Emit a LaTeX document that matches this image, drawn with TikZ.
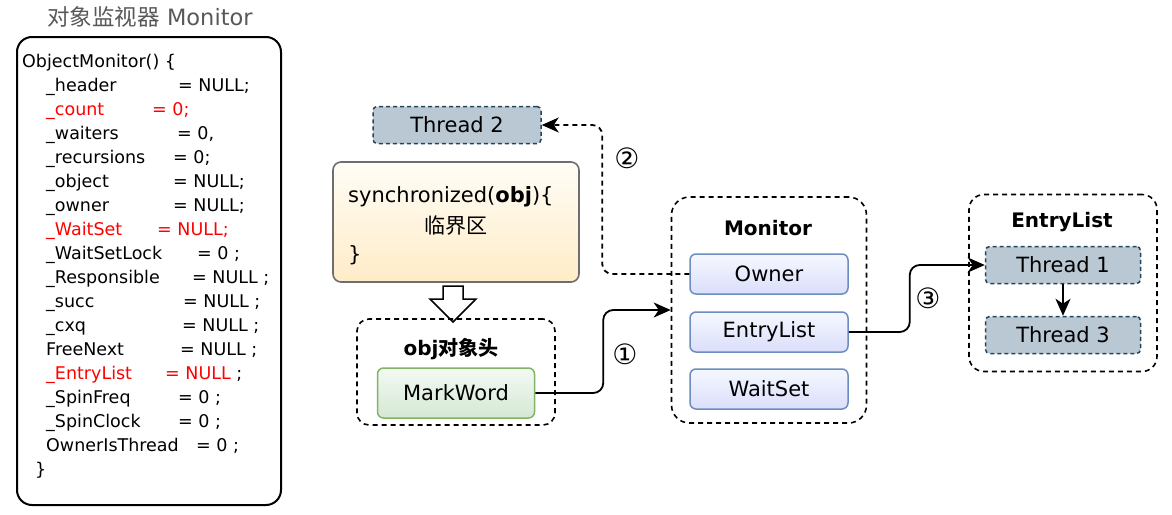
\documentclass[tikz,border=0pt]{standalone}
\usepackage{fontspec}
\setmainfont{DejaVu Sans}
\newfontfamily\cjk{Noto Sans CJK SC}
\usepackage{xcolor}
\usepackage{tikz}
\usetikzlibrary{positioning,arrows.meta}
\definecolor{threadfill}{RGB}{186,200,211}
\definecolor{threaddraw}{RGB}{35,68,93}
\definecolor{fielddraw}{RGB}{108,142,191}
\definecolor{fieldtop}{RGB}{246,248,255}
\definecolor{fieldbot}{RGB}{218,222,250}
\definecolor{markdraw}{RGB}{130,179,102}
\definecolor{marktop}{RGB}{243,249,242}
\definecolor{markbot}{RGB}{213,232,212}
\definecolor{syncdraw}{RGB}{110,110,110}
\definecolor{synctop}{RGB}{255,253,246}
\definecolor{syncbot}{RGB}{255,236,200}
\definecolor{codered}{RGB}{255,0,0}
\definecolor{titlegray}{RGB}{88,88,88}
\newcommand{\lblfont}{\fontsize{21}{25}\selectfont}
\newcommand{\codefont}{\fontsize{17.5}{20}\selectfont}
\tikzset{
  codebox/.style   = {draw, line width=2pt, rounded corners=15pt,
                      minimum width=264pt, minimum height=468pt},
  codeln/.style    = {anchor=base west, inner sep=0pt, font=\codefont},
  groupbox/.style  = {draw, line width=1.6pt, dash pattern=on 5pt off 4pt},
  grouptitle/.style= {inner sep=0pt, font=\fontsize{20}{24}\selectfont\bfseries},
  threadbox/.style = {draw=threaddraw, fill=threadfill, line width=1.5pt,
                      dash pattern=on 4pt off 3pt, rounded corners=4pt,
                      minimum width=155pt, minimum height=37pt, font=\lblfont},
  fieldbox/.style  = {draw=fielddraw, top color=fieldtop, bottom color=fieldbot,
                      line width=1.5pt, rounded corners=6pt,
                      minimum width=158pt, minimum height=40pt, font=\lblfont},
  markbox/.style   = {draw=markdraw, top color=marktop, bottom color=markbot,
                      line width=1.5pt, rounded corners=6pt,
                      minimum width=157pt, minimum height=50pt, font=\lblfont},
  syncbox/.style   = {draw=syncdraw, top color=synctop, bottom color=syncbot,
                      line width=1.6pt, rounded corners=8pt,
                      minimum width=246pt, minimum height=120pt},
  flowarrow/.style = {-{Stealth[length=17pt,width=15pt,inset=5pt]},
                      line width=1.8pt, rounded corners=10pt},
  steplbl/.style   = {inner sep=0pt, font=\fontsize{28}{32}\selectfont}
}

\begin{document}
\begin{tikzpicture}[x=1pt, y=-1pt]
  \useasboundingbox (0,0) rectangle (1172,514);
  % Left panel: ObjectMonitor source
  \node[font=\fontsize{22.5}{26}\selectfont, text=titlegray] (title) at (150,17)
       {{\cjk 对象监视器} Monitor};
  \node[codebox] (code) at (149,271) {};
  \node[codeln] (c0)  at (22,67)  {ObjectMonitor() \{};
  \node[codeln] (c1)  at (46,91)  {\_header};
  \node[codeln] (v1)  at (178,91) {= NULL;};
  \node[codeln, text=codered] (c2) at (46,115) {\_count};
  \node[codeln, text=codered] (v2) at (152,115) {= 0;};
  \node[codeln] (c3)  at (46,139)  {\_waiters};
  \node[codeln] (v3)  at (177,139) {= 0,};
  \node[codeln] (c4)  at (46,163)  {\_recursions};
  \node[codeln] (v4)  at (173,163) {= 0;};
  \node[codeln] (c5)  at (46,187)  {\_object};
  \node[codeln] (v5)  at (173,187) {= NULL;};
  \node[codeln] (c6)  at (46,211)  {\_owner};
  \node[codeln] (v6)  at (173,211) {= NULL;};
  \node[codeln, text=codered] (c7) at (46,235)  {\_WaitSet};
  \node[codeln, text=codered] (v7) at (157,235) {= NULL;};
  \node[codeln] (c8)  at (46,259)  {\_WaitSetLock};
  \node[codeln] (v8)  at (197,259) {= 0 ;};
  \node[codeln] (c9)  at (46,283)  {\_Responsible};
  \node[codeln] (v9)  at (192,283) {= NULL ;};
  \node[codeln] (c10) at (46,307)  {\_succ};
  \node[codeln] (v10) at (183,307) {= NULL ;};
  \node[codeln] (c11) at (46,331)  {\_cxq};
  \node[codeln] (v11) at (182,331) {= NULL ;};
  \node[codeln] (c12) at (46,355)  {FreeNext};
  \node[codeln] (v12) at (180,355) {= NULL ;};
  \node[codeln, text=codered] (c13) at (46,379) {\_EntryList};
  \node[codeln] (v13) at (165,379) {\textcolor{codered}{= NULL} ;};
  \node[codeln] (c14) at (46,403)  {\_SpinFreq};
  \node[codeln] (v14) at (178,403) {= 0 ;};
  \node[codeln] (c15) at (46,427)  {\_SpinClock};
  \node[codeln] (v15) at (178,427) {= 0 ;};
  \node[codeln] (c16) at (46,451)  {OwnerIsThread};
  \node[codeln] (v16) at (196,451) {= 0 ;};
  \node[codeln] (c17) at (35,475)  {\}};
  % Synchronized block and object header
  \node[threadbox, minimum width=168pt] (t2) at (457,125) {Thread 2};
  \node[syncbox] (sync) at (456,222) {};
  \node[anchor=west, inner sep=0pt, font=\lblfont] (synchead) at (348,197)
       {synchronized(\textbf{obj})\{};
  \node[inner sep=0pt, font=\lblfont] (crit) at (456,226) {\cjk 临界区};
  \node[anchor=west, inner sep=0pt, font=\lblfont] (syncend) at (348,255) {\}};
  \draw[line width=1.5pt, fill=white] (443,286) -- (463,286) -- (463,299)
       -- (476,299) -- (453,322) -- (430,299) -- (443,299) -- cycle;
  \node[groupbox, rounded corners=12pt, minimum width=198pt, minimum height=106pt]
       (objhdr) at (456,372) {};
  \node[grouptitle] (objttl) at (451,349) {obj{\cjk 对象头}};
  \node[markbox] (mw) at (456,393) {MarkWord};
  % Monitor
  \node[groupbox, rounded corners=18pt, minimum width=195pt, minimum height=226pt]
       (mon) at (769,310) {};
  \node[grouptitle] (monttl) at (768,228) {Monitor};
  \node[fieldbox] (own)  at (769,274) {Owner};
  \node[fieldbox] (ent)  at (769,332) {EntryList};
  \node[fieldbox] (wait) at (769,389) {WaitSet};
  % EntryList queue
  \node[groupbox, rounded corners=15pt, minimum width=188pt, minimum height=177pt]
       (elist) at (1063,283) {};
  \node[grouptitle] (elttl) at (1062,222) {EntryList};
  \node[threadbox] (t1) at (1063,265) {Thread 1};
  \node[threadbox] (t3) at (1063,335) {Thread 3};
  % Connectors
  \draw[flowarrow] (mw.east) -- ++(68,0) |- (mon.west);
  \draw[flowarrow, dash pattern=on 5pt off 4pt] (own.west) -- ++(-87,0) |- (t2.east);
  \draw[flowarrow] (ent.east) -- ++(61,0) |- (t1.west);
  \draw[flowarrow] (t1) -- (t3);
  \node[steplbl] (n1) at (625,354) {①};
  \node[steplbl] (n2) at (627,158) {②};
  \node[steplbl] (n3) at (928,298) {③};
\end{tikzpicture}
\end{document}
